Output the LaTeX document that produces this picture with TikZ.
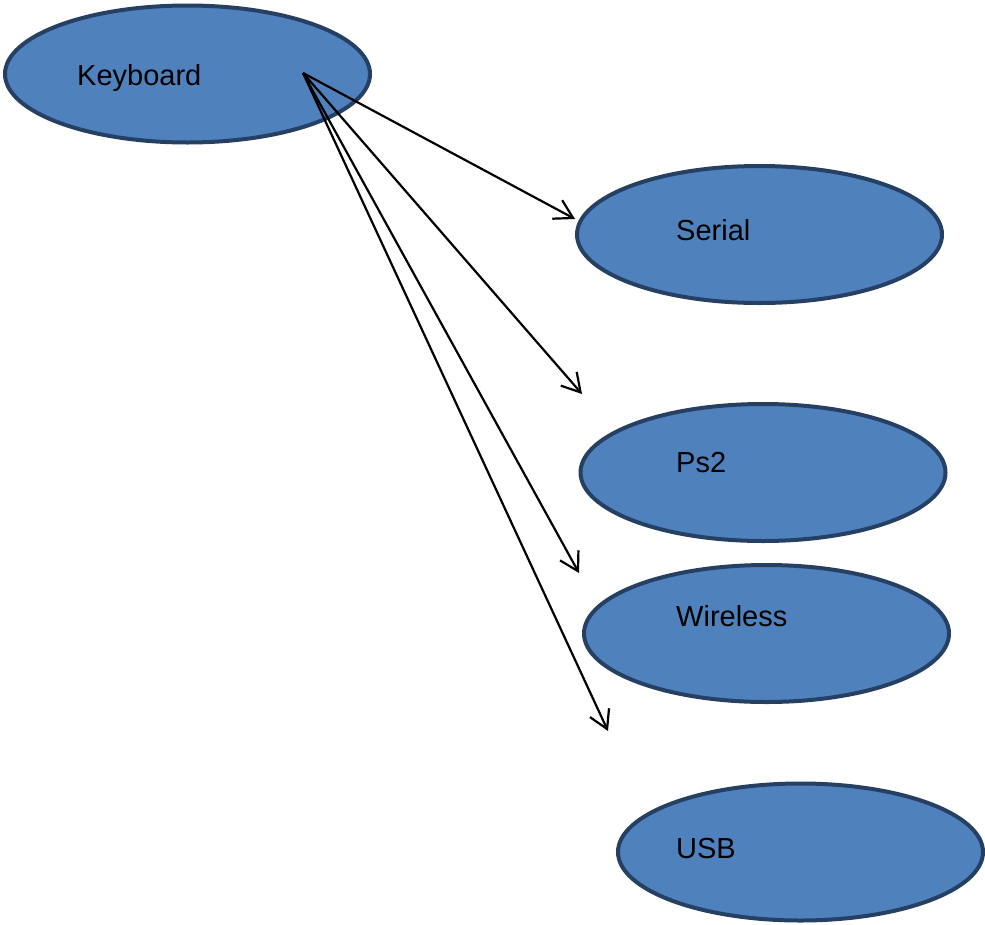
\documentclass[tikz,border=0pt]{standalone}
\usepackage{fontspec}
\setmainfont{Liberation Sans}
\usetikzlibrary{shapes.geometric,arrows.meta}
\definecolor{efill}{HTML}{4F81BD}
\definecolor{edraw}{RGB}{38,64,100}
\tikzset{
  oval/.style={ellipse, draw=edraw, fill=efill, line width=4pt,
    minimum width=365pt, minimum height=137pt, inner sep=0pt},
  lbl/.style={anchor=base west, inner sep=0pt, font=\fontsize{29pt}{33pt}\selectfont},
  conn/.style={line width=2.2pt, -{Straight Barb[length=18pt,width=21pt,line width=2.2pt]}}
}
\begin{document}
\begin{tikzpicture}[x=1pt,y=-1pt]
\useasboundingbox (0,0) rectangle (985,924);
\node[oval] (kb) at (187.5,74) {};
\node[oval] (serial) at (759.5,234.5) {};
\node[oval] (ps2) at (763,472.5) {};
\node[oval] (wireless) at (766.5,633.5) {};
\node[oval] (usb) at (800.5,852) {};
\node[lbl] (tkb) at (77,85) {Keyboard};
\node[lbl] (tserial) at (676,240) {Serial};
\node[lbl] (tps2) at (676,472) {Ps2};
\node[lbl] (twireless) at (676,626) {Wireless};
\node[lbl] (tusb) at (676,858) {USB};
\coordinate (src) at (303,73);
\coordinate (e1) at (575,219);
\coordinate (e2) at (582,394);
\coordinate (e3) at (579,573);
\coordinate (e4) at (608,731);
\draw[conn] (src) -- (e1);
\draw[conn] (src) -- (e2);
\draw[conn] (src) -- (e3);
\draw[conn] (src) -- (e4);
\end{tikzpicture}
\end{document}
